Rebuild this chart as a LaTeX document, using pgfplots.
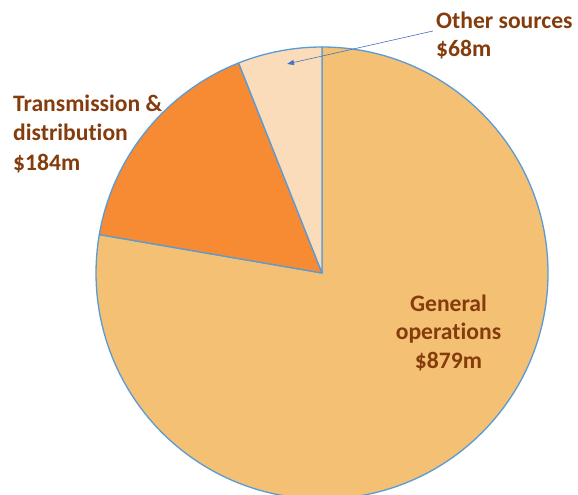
\documentclass[border=0pt]{standalone}
\usepackage{fontspec}
\setmainfont{Carlito}[Ligatures=NoCommon]
\usepackage{pgfplots}
\pgfplotsset{compat=1.18}
\usetikzlibrary{arrows.meta}
\definecolor{genop}{HTML}{F4C073}
\definecolor{trans}{HTML}{F68B33}
\definecolor{other}{HTML}{FADBBA}
\definecolor{edge}{HTML}{5B9BD5}
\definecolor{lbl}{HTML}{843C0C}
\definecolor{arr}{HTML}{4472C4}
\begin{document}
\begin{tikzpicture}
\useasboundingbox (0,0) rectangle (578bp,495bp);
% values ($m)
\pgfmathsetmacro{\vA}{879}
\pgfmathsetmacro{\vB}{184}
\pgfmathsetmacro{\vC}{68}
\pgfmathsetmacro{\tot}{\vA+\vB+\vC}
\pgfmathsetmacro{\aA}{90}
\pgfmathsetmacro{\aB}{\aA-\vA/\tot*360}
\pgfmathsetmacro{\aC}{\aB-\vB/\tot*360}
\pgfmathsetmacro{\aD}{\aC-\vC/\tot*360}
\begin{axis}[
  at={(0,0)}, anchor=south west,
  width=578bp, height=495bp, scale only axis,
  xmin=0, xmax=578, ymin=0, ymax=495,
  hide axis, clip=false,
]
\fill[genop, draw=edge, line width=1.3bp, line join=round] (axis cs:322,222) -- ++(\aA:226bp) arc[start angle=\aA, end angle=\aB, radius=226bp] -- cycle;
\fill[trans, draw=edge, line width=1.3bp, line join=round] (axis cs:322,222) -- ++(\aB:226bp) arc[start angle=\aB, end angle=\aC, radius=226bp] -- cycle;
\fill[other, draw=edge, line width=1.3bp, line join=round] (axis cs:322,222) -- ++(\aC:226bp) arc[start angle=\aC, end angle=\aD, radius=226bp] -- cycle;
\draw[arr, line width=0.6bp, -{Triangle[length=7bp,width=5bp]}] (axis cs:433,464) -- (axis cs:287,431);
\begin{scope}[every node/.style={font=\fontsize{23.6bp}{29bp}\selectfont\bfseries, text=lbl, inner sep=0pt}]
\node[anchor=base west] at (axis cs:436,466.5) {Other sources};
\node[anchor=base west] at (axis cs:436,438) {\$68m};
\node[anchor=base west] at (axis cs:13,383.5) {Transmission \&};
\node[anchor=base west] at (axis cs:13,354) {distribution};
\node[anchor=base west] at (axis cs:13,324.5) {\$184m};
\node[anchor=base] at (axis cs:448.5,183) {General};
\node[anchor=base] at (axis cs:448.5,155) {operations};
\node[anchor=base] at (axis cs:448.5,126.5) {\$879m};
\end{scope}
\end{axis}
\end{tikzpicture}
\end{document}
